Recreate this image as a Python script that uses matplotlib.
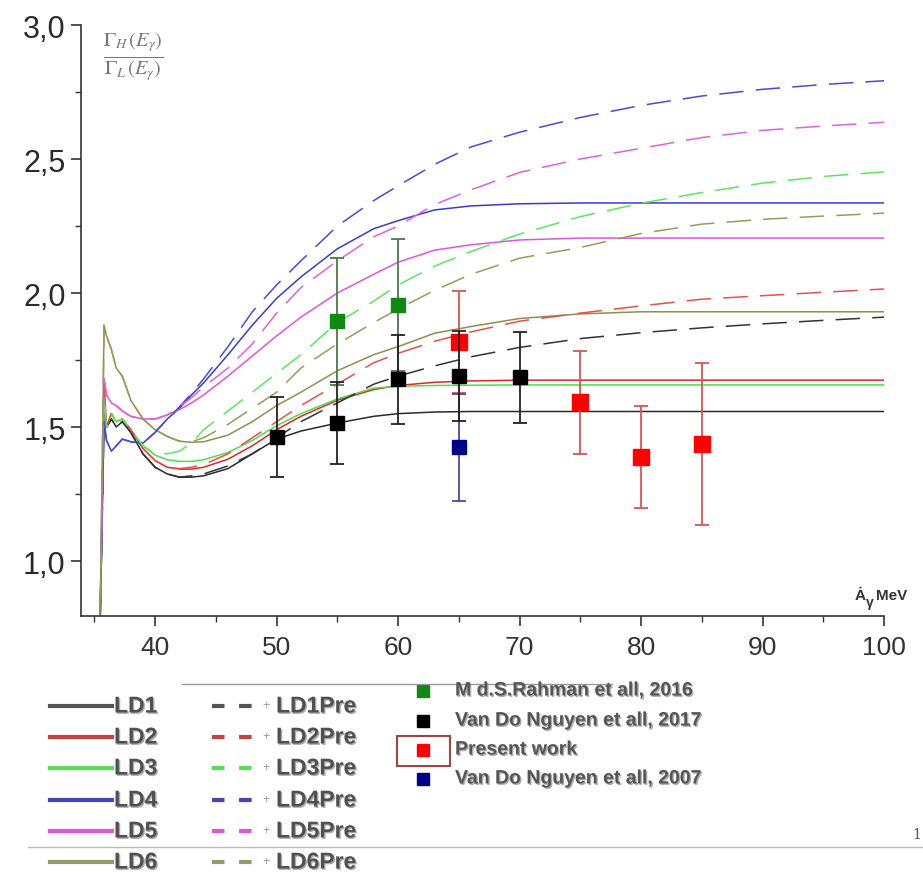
import numpy as np
import matplotlib
matplotlib.use("Agg")
import matplotlib.pyplot as plt
import matplotlib.patheffects as pe
from matplotlib.lines import Line2D
from matplotlib.patches import Rectangle
from matplotlib.ticker import MultipleLocator, FuncFormatter

plt.rcParams['font.family'] = ['Liberation Sans', 'DejaVu Sans']
plt.rcParams['mathtext.fontset'] = 'stix'

# === Data: ratio Gamma_H / Gamma_L versus gamma energy (MeV) ===
energy = [35.45, 35.8, 36.0, 36.4, 36.8, 37.3, 38, 39, 40, 41, 42, 43, 44, 46, 48,
          50, 52, 55, 58, 60, 63, 66, 70, 75, 80, 85, 90, 95, 100]

ld1 = [0.70, 1.60, 1.50, 1.53, 1.50, 1.52, 1.48, 1.40, 1.35, 1.325, 1.313, 1.313, 1.318, 1.345, 1.40,
       1.455, 1.485, 1.515, 1.54, 1.55, 1.556, 1.558, 1.558, 1.558, 1.558, 1.558, 1.558, 1.558, 1.558]
ld2 = [0.70, 1.66, 1.50, 1.55, 1.52, 1.53, 1.49, 1.42, 1.375, 1.35, 1.343, 1.343, 1.35, 1.38, 1.43,
       1.49, 1.54, 1.60, 1.64, 1.655, 1.667, 1.672, 1.675, 1.675, 1.675, 1.675, 1.675, 1.675, 1.675]
ld3 = [0.70, 1.62, 1.50, 1.55, 1.52, 1.53, 1.49, 1.43, 1.395, 1.378, 1.372, 1.372, 1.378, 1.405, 1.45,
       1.505, 1.55, 1.605, 1.645, 1.652, 1.655, 1.656, 1.657, 1.657, 1.657, 1.657, 1.657, 1.657, 1.657]
ld4 = [0.70, 1.52, 1.45, 1.41, 1.43, 1.455, 1.445, 1.44, 1.48, 1.53, 1.57, 1.62, 1.665, 1.77, 1.88,
       1.98, 2.06, 2.165, 2.24, 2.27, 2.31, 2.325, 2.333, 2.336, 2.336, 2.336, 2.336, 2.336, 2.336]
ld5 = [0.70, 1.68, 1.62, 1.59, 1.58, 1.56, 1.54, 1.53, 1.53, 1.545, 1.565, 1.59, 1.62, 1.69, 1.765,
       1.84, 1.91, 2.00, 2.07, 2.115, 2.16, 2.18, 2.198, 2.205, 2.205, 2.205, 2.205, 2.205, 2.205]
ld6 = [0.70, 1.88, 1.84, 1.79, 1.72, 1.69, 1.60, 1.53, 1.49, 1.465, 1.447, 1.443, 1.445, 1.47, 1.52,
       1.58, 1.63, 1.71, 1.77, 1.80, 1.85, 1.875, 1.905, 1.922, 1.93, 1.93, 1.93, 1.93, 1.93]

ld1_pre = [0.70, 1.60, 1.50, 1.53, 1.50, 1.52, 1.48, 1.40, 1.35, 1.325, 1.313, 1.318, 1.325, 1.355, 1.40,
           1.46, 1.52, 1.59, 1.66, 1.69, 1.728, 1.762, 1.797, 1.83, 1.852, 1.87, 1.885, 1.898, 1.91]
ld2_pre = [0.70, 1.66, 1.50, 1.55, 1.52, 1.53, 1.49, 1.42, 1.375, 1.35, 1.345, 1.35, 1.36, 1.40, 1.46,
           1.52, 1.58, 1.66, 1.74, 1.775, 1.82, 1.855, 1.895, 1.925, 1.952, 1.977, 1.99, 2.003, 2.015]
ld3_pre = [0.70, 1.62, 1.50, 1.55, 1.52, 1.53, 1.49, 1.43, 1.40, 1.40, 1.41, 1.44, 1.49, 1.56, 1.63,
           1.70, 1.77, 1.89, 1.97, 2.03, 2.10, 2.155, 2.22, 2.285, 2.335, 2.375, 2.41, 2.435, 2.452]
ld4_pre = [0.70, 1.52, 1.45, 1.41, 1.43, 1.455, 1.445, 1.44, 1.48, 1.53, 1.575, 1.625, 1.68, 1.80, 1.93,
           2.03, 2.12, 2.25, 2.345, 2.40, 2.48, 2.545, 2.60, 2.655, 2.70, 2.735, 2.76, 2.778, 2.792]
ld5_pre = [0.70, 1.68, 1.62, 1.59, 1.58, 1.56, 1.54, 1.53, 1.53, 1.545, 1.575, 1.61, 1.65, 1.72, 1.81,
           1.925, 2.02, 2.12, 2.21, 2.25, 2.33, 2.385, 2.45, 2.50, 2.54, 2.58, 2.607, 2.623, 2.637]
ld6_pre = [0.70, 1.88, 1.84, 1.79, 1.72, 1.69, 1.60, 1.53, 1.49, 1.465, 1.447, 1.445, 1.46, 1.51, 1.57,
           1.63, 1.72, 1.81, 1.89, 1.94, 2.01, 2.07, 2.13, 2.17, 2.222, 2.257, 2.275, 2.287, 2.298]

# experimental points
rahman_e = [55, 60]
rahman_r = [1.895, 1.955]
rahman_err = [0.237, 0.245]

nguyen17_e = [50, 55, 60, 65, 70]
nguyen17_r = [1.462, 1.515, 1.679, 1.69, 1.686]
nguyen17_err = [0.15, 0.153, 0.166, 0.168, 0.17]

present_e = [65, 75, 80, 85]
present_r = [1.817, 1.593, 1.388, 1.437]
present_err = [0.19, 0.192, 0.19, 0.302]

nguyen07_e = [65]
nguyen07_r = [1.425]
nguyen07_err = [0.20]

# labels and colours
solid_curves = [ld1, ld2, ld3, ld4, ld5, ld6]
dashed_curves = [ld1_pre, ld2_pre, ld3_pre, ld4_pre, ld5_pre, ld6_pre]
solid_names = ["LD1", "LD2", "LD3", "LD4", "LD5", "LD6"]
dashed_names = ["LD1Pre", "LD2Pre", "LD3Pre", "LD4Pre", "LD5Pre", "LD6Pre"]
solid_colors = ['#2b2b2b', '#d42a2a', '#4fdc4f', '#3a3acc', '#e055e0', '#8f8f50']
dashed_colors = ['#333333', '#e8504a', '#5ce65c', '#4a4ad8', '#e060e0', '#9a9a5a']
legend_line_colors = ['#555555', '#c84040', '#55dd55', '#4444bb', '#dd55dd', '#999966']

# ======== Figure =========
fig = plt.figure(figsize=(9.23, 8.78), dpi=100, facecolor='white')
ax = fig.add_axes([81 / 923, 1 - 617 / 878, (884 - 81) / 923, (617 - 26) / 878])

for y, c in zip(solid_curves, solid_colors):
    ax.plot(energy, y, color=c, lw=1.1, zorder=2)
for y, c in zip(dashed_curves, dashed_colors):
    ax.plot(energy, y, color=c, lw=1.1, linestyle=(0, (16, 8)), zorder=2)

ax.errorbar(rahman_e, rahman_r, yerr=rahman_err, fmt='s', color='#118811', ms=9.5,
            ecolor='#4a7a4a', elinewidth=1.3, capsize=5, capthick=1.3, zorder=3)
ax.errorbar(present_e, present_r, yerr=present_err, fmt='s', color='#ff0000', ms=12,
            ecolor='#e05050', elinewidth=1.3, capsize=5, capthick=1.3, zorder=4)
ax.errorbar(nguyen07_e, nguyen07_r, yerr=nguyen07_err, fmt='s', color='#000088', ms=9.5,
            ecolor='#4a4a9a', elinewidth=1.3, capsize=5, capthick=1.3, zorder=5)
ax.errorbar(nguyen17_e, nguyen17_r, yerr=nguyen17_err, fmt='s', color='#000000', ms=10.5,
            ecolor='#222222', elinewidth=1.3, capsize=5, capthick=1.3, zorder=6)

ax.set_xlim(33.9, 100)
ax.set_ylim(0.795, 3.0)
ax.spines['top'].set_visible(False)
ax.spines['right'].set_visible(False)
for s in ['left', 'bottom']:
    ax.spines[s].set_color('#333333')
    ax.spines[s].set_linewidth(1.2)

ax.xaxis.set_major_locator(MultipleLocator(10))
ax.xaxis.set_minor_locator(MultipleLocator(5))
ax.yaxis.set_major_locator(MultipleLocator(0.5))
ax.yaxis.set_minor_locator(MultipleLocator(0.25))
ax.yaxis.set_major_formatter(FuncFormatter(lambda v, p: f"{v:.1f}".replace('.', ',')))
ax.tick_params(axis='both', which='major', direction='out', length=7, width=1.2, color='#333333')
ax.tick_params(axis='both', which='minor', direction='out', length=4.5, width=1.0, color='#333333')
ax.tick_params(axis='y', which='major', labelsize=22, pad=4, labelcolor='#2a2a2a')
ax.tick_params(axis='x', which='major', labelsize=19, pad=7, labelcolor='#333333')

# axis titles inside the frame
fig.text(133 / 923, 1 - 57 / 878, r'$\frac{\Gamma_H\,(E_\gamma)}{\Gamma_L\,(E_\gamma)}$',
         fontsize=21, color='#777777', ha='center', va='center')
fig.text(855 / 923, 1 - 596 / 878, 'Ȧ', fontsize=11, fontweight='bold', color='#333333',
         ha='left', va='center')
fig.text(866 / 923, 1 - 603 / 878, 'γ', fontsize=10, fontweight='bold', color='#333333',
         ha='left', va='center')
fig.text(876 / 923, 1 - 596 / 878, 'MeV', fontsize=11, fontweight='bold', color='#333333',
         ha='left', va='center')

# ======== Legend (drawn below the axes) =========
shadow = [pe.SimplePatchShadow(offset=(1.0, -1.0), shadow_rgbFace='#888888', alpha=0.7), pe.Normal()]
row_y = [707, 738, 769, 801, 832, 863]
for i in range(6):
    fy = 1 - row_y[i] / 878
    fig.add_artist(Line2D([50 / 923, 112 / 923], [fy, fy], color=legend_line_colors[i], lw=3,
                          transform=fig.transFigure))
    fig.text(114 / 923, fy, solid_names[i], fontsize=16.5, fontweight='bold', color='#505050',
             ha='left', va='center', path_effects=shadow)
    fig.add_artist(Line2D([212 / 923, 252 / 923], [fy, fy], color=legend_line_colors[i], lw=3,
                          linestyle=(0, (3, 3.5)), transform=fig.transFigure))
    fig.text(266 / 923, fy + 0.001, '+', fontsize=9, color='#999999', ha='center', va='center')
    fig.text(276 / 923, fy, dashed_names[i], fontsize=16.5, fontweight='bold', color='#505050',
             ha='left', va='center', path_effects=shadow)

exp_names = ["M d.S.Rahman et all, 2016", "Van Do Nguyen et all, 2017",
             "Present work", "Van Do Nguyen et all, 2007"]
exp_colors = ['#118811', '#000000', '#ff0000', '#000088']
exp_y = [692, 722, 751, 780]
for name, c, py in zip(exp_names, exp_colors, exp_y):
    fy = 1 - py / 878
    fig.add_artist(Line2D([423 / 923], [fy], marker='s', ms=9, color=c, ls='none',
                          transform=fig.transFigure))
    fig.text(455 / 923, fy, name, fontsize=14, fontweight='bold', color='#555555',
             ha='left', va='center', path_effects=shadow)
fig.add_artist(Rectangle((397 / 923, 1 - 767 / 878), 53 / 923, 30 / 878, fill=False,
                         edgecolor='#a04545', lw=1.5, transform=fig.transFigure))

# separator lines
fig.add_artist(Line2D([182 / 923, 612 / 923], [1 - 685 / 878, 1 - 685 / 878], color='#999999',
                      lw=1.0, transform=fig.transFigure))
fig.add_artist(Line2D([28 / 923, 1.0], [1 - 848 / 878, 1 - 848 / 878], color='#bbbbbb',
                      lw=1.0, transform=fig.transFigure))
fig.text(917 / 923, 1 - 835 / 878, '1', fontsize=10, family='DejaVu Serif', color='#555555',
         ha='center', va='center')

fig.savefig('out.png', dpi=100, facecolor='white')
